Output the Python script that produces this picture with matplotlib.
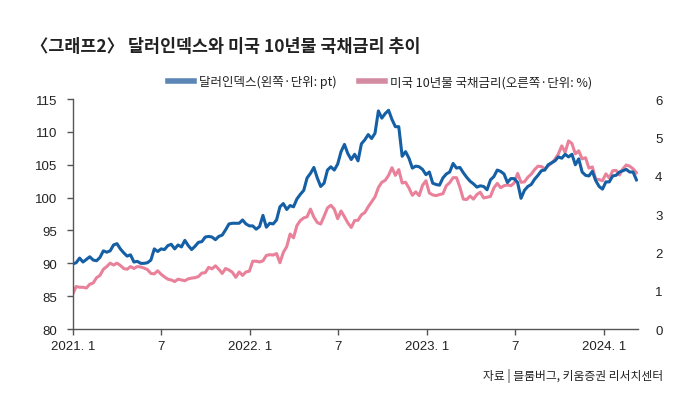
import matplotlib
matplotlib.use("Agg")
import matplotlib.pyplot as plt
from matplotlib.lines import Line2D
import pandas as pd

plt.rcParams['font.family'] = ['Noto Sans CJK KR', 'DejaVu Sans']

# Weekly (Friday) observations, 2021-01-01 .. 2024-03-08
dxy_2021 = [89.9, 90.1, 90.8, 90.2, 90.6,
            91.0, 90.5, 90.4, 90.9,
            91.9, 91.7, 91.9, 92.8,
            93.0, 92.2, 91.6, 91.1, 91.3,
            90.2, 90.3, 90.0, 90.0,
            90.1, 90.5, 92.2, 91.8,
            92.2, 92.1, 92.7, 92.9, 92.2,
            92.8, 92.5, 93.5, 92.7,
            92.1, 92.6, 93.2, 93.3,
            94.0, 94.1, 94.0, 93.6, 94.1,
            94.3, 95.1, 96.0, 96.1,
            96.1, 96.1, 96.6, 96.0, 95.7]
dxy_2022 = [95.7, 95.2, 95.6, 97.3,
            95.5, 96.1, 96.0, 96.6,
            98.6, 99.1, 98.2, 98.8,
            98.6, 99.8, 100.5, 101.1, 103.0,
            103.7, 104.6, 103.0, 101.7,
            102.2, 104.2, 104.7, 104.2,
            105.1, 107.0, 108.1, 106.7, 105.8,
            106.6, 105.6, 108.2, 108.8,
            109.6, 109.0, 109.8, 113.2, 112.1,
            112.8, 113.3, 111.9, 110.8,
            110.8, 106.3, 107.0, 106.0,
            104.5, 104.8, 104.7, 104.3, 103.5]
dxy_2023 = [103.9, 102.2, 102.0, 101.9,
            103.0, 103.6, 103.9, 105.2,
            104.5, 104.6, 103.8, 103.1, 102.5,
            102.1, 101.6, 101.8, 101.7,
            101.2, 102.7, 103.2, 104.2,
            104.0, 103.6, 102.3, 102.9, 102.9,
            102.3, 99.9, 101.1, 101.7,
            102.0, 102.8, 103.4, 104.1,
            104.2, 105.0, 105.3, 105.6, 106.2,
            106.0, 106.6, 106.2, 106.6,
            105.0, 105.9, 103.9, 103.4,
            103.3, 104.0, 102.6, 101.7, 101.3]
dxy_2024 = [102.4, 102.4, 103.3, 103.4,
            103.9, 104.1, 104.3, 103.9,
            103.9, 102.7]

ust_2021 = [0.92, 1.11, 1.09, 1.09, 1.07,
            1.17, 1.20, 1.34, 1.40,
            1.56, 1.63, 1.72, 1.67,
            1.72, 1.66, 1.58, 1.56, 1.63,
            1.58, 1.63, 1.62, 1.59,
            1.55, 1.45, 1.44, 1.52,
            1.43, 1.36, 1.30, 1.28, 1.24,
            1.30, 1.28, 1.26, 1.31,
            1.33, 1.34, 1.37, 1.46,
            1.47, 1.61, 1.57, 1.65, 1.56,
            1.45, 1.58, 1.54, 1.48,
            1.35, 1.49, 1.40, 1.49, 1.51]
ust_2022 = [1.77, 1.77, 1.75, 1.78,
            1.92, 1.94, 1.93, 1.97,
            1.73, 2.00, 2.15, 2.48,
            2.38, 2.70, 2.83, 2.90, 2.93,
            3.13, 2.92, 2.78, 2.74,
            2.94, 3.16, 3.23, 3.13,
            2.88, 3.08, 2.93, 2.77, 2.65,
            2.83, 2.84, 2.98, 3.04,
            3.19, 3.32, 3.45, 3.69, 3.83,
            3.88, 4.01, 4.21, 4.01,
            4.16, 3.81, 3.83, 3.68,
            3.49, 3.58, 3.48, 3.75, 3.87]
ust_2023 = [3.55, 3.50, 3.48, 3.51,
            3.53, 3.74, 3.82, 3.95,
            3.95, 3.70, 3.39, 3.38, 3.47,
            3.39, 3.51, 3.57, 3.42,
            3.44, 3.46, 3.68, 3.80,
            3.69, 3.74, 3.76, 3.74, 3.81,
            4.06, 3.83, 3.84, 3.96,
            4.04, 4.16, 4.25, 4.24,
            4.18, 4.26, 4.33, 4.43, 4.57,
            4.78, 4.61, 4.91, 4.84,
            4.57, 4.65, 4.44, 4.47,
            4.20, 4.23, 3.91, 3.90, 3.87]
ust_2024 = [4.05, 3.94, 4.13, 4.14,
            4.02, 4.18, 4.28, 4.25,
            4.18, 4.08]

dxy = dxy_2021 + dxy_2022 + dxy_2023 + dxy_2024
ust = ust_2021 + ust_2022 + ust_2023 + ust_2024
dates = pd.date_range('2021-01-01', periods=len(dxy), freq='W-FRI')

tick_dates = ['2021-01-01', '2021-07-01', '2022-01-01', '2022-07-01',
              '2023-01-01', '2023-07-01', '2024-01-01']
tick_labels = ['2021. 1', '7', '2022. 1', '7', '2023. 1', '7', '2024. 1']

title = '〈그래프2〉 달러인덱스와 미국 10년물 국채금리 추이'
legend_labels = ['달러인덱스(왼쪽·단위: pt)', '미국 10년물 국채금리(오른쪽·단위: %)']
source = '자료 | 블룸버그, 키움증권 리서치센터'

blue = '#155fa5'
pink = '#e9819b'
txt = '#222222'
spine_c = '#555555'

fig = plt.figure(figsize=(7.0, 4.02), dpi=100)
ax = fig.add_axes([0.104, 0.179, 0.808, 0.572])
ax2 = ax.twinx()

ax.plot(dates, dxy, color=blue, lw=2.2, zorder=3)
ax2.plot(dates, ust, color=pink, lw=2.2, zorder=2)
ax.set_zorder(ax2.get_zorder() + 1)
ax.patch.set_visible(False)

ax.set_ylim(80, 115)
ax.set_yticks(range(80, 116, 5))
ax2.set_ylim(0, 6)
ax2.set_yticks(range(0, 7))
ax.set_xlim(pd.Timestamp('2021-01-01'), pd.Timestamp('2024-03-12'))
ax.set_xticks(pd.to_datetime(tick_dates))
ax.set_xticklabels(tick_labels)

for a in (ax, ax2):
    for s in ('top', 'right'):
        a.spines[s].set_visible(False)
ax2.spines['left'].set_visible(False)
ax2.spines['bottom'].set_visible(False)
for s in ('left', 'bottom'):
    ax.spines[s].set_color(spine_c)
    ax.spines[s].set_linewidth(1.0)

ax.tick_params(axis='y', direction='out', length=4, width=1, color=spine_c,
               pad=7, labelcolor=txt, labelsize=9.5)
ax.tick_params(axis='x', direction='out', length=4, width=1, color=spine_c,
               pad=4, labelcolor=txt, labelsize=9.5)
ax2.tick_params(axis='y', length=0, pad=12, labelcolor=txt, labelsize=9.5)
for lab in ax.get_xticklabels() + ax.get_yticklabels() + ax2.get_yticklabels():
    lab.set_fontfamily(['Liberation Sans', 'DejaVu Sans'])

fig.text(0.044, 0.883, title, fontsize=12.5, fontweight='bold', color=txt,
         ha='left', va='center')

handles = [Line2D([0], [0], color='#5b86b6', lw=4),
           Line2D([0], [0], color='#d38ba1', lw=4)]
fig.legend(handles, legend_labels, loc='center', bbox_to_anchor=(0.543, 0.794),
           ncol=2, frameon=False, fontsize=9, handlelength=2.1,
           handletextpad=0.4, columnspacing=1.8, labelcolor=txt)

fig.text(0.947, 0.065, source, fontsize=8.5, color=txt, ha='right', va='center')

fig.savefig('out.png', dpi=100, facecolor='white')
